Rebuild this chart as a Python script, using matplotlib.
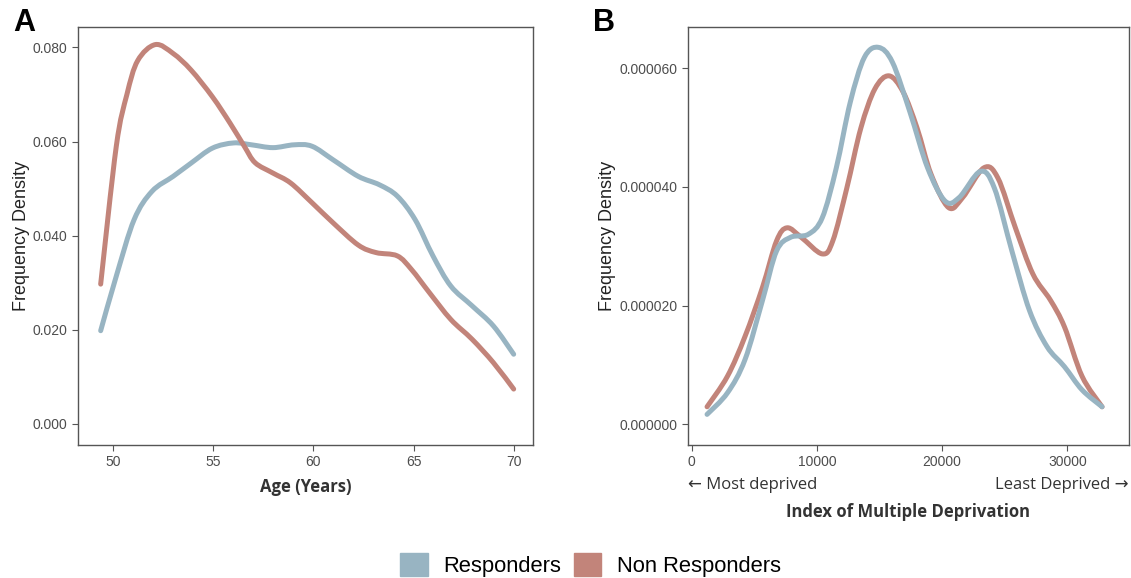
import numpy as np
import matplotlib
matplotlib.use("Agg")
from matplotlib import pyplot as plt
from matplotlib.patches import Patch, PathPatch
from matplotlib.path import Path

# panel A: age densities
age_resp = [49.38, 50.16, 51.05, 51.94, 53.0, 53.89, 54.96, 56.02, 56.91, 57.98, 59.04, 59.93,
            60.99, 62.24, 63.3, 64.19, 65.08, 65.97, 66.86, 67.92, 68.99, 70.0]
dens_resp = [0.0198, 0.0314, 0.0434, 0.0494, 0.0526, 0.0554, 0.0586, 0.0597, 0.0593, 0.0587, 0.0593, 0.059,
             0.0561, 0.0526, 0.0508, 0.0484, 0.0434, 0.0357, 0.0293, 0.0251, 0.0208, 0.0148]
age_non = [49.38, 50.16, 50.69, 51.23, 52.11, 53.0, 53.89, 54.96, 55.84, 56.55, 57.09, 57.98,
           58.86, 59.93, 60.99, 62.24, 63.13, 64.19, 64.9, 65.79, 66.86, 67.92, 68.99, 70.0]
dens_non = [0.0297, 0.059, 0.070, 0.0772, 0.0806, 0.0787, 0.0752, 0.0695, 0.0639, 0.059, 0.0555, 0.0533,
            0.0512, 0.047, 0.0427, 0.038, 0.0364, 0.0357, 0.0328, 0.0279, 0.0222, 0.018, 0.013, 0.0074]

# panel B: IMD densities
imd_resp = [1230, 2860, 4260, 5660, 6780, 7900, 9310, 10430, 11550, 12670, 13790, 14910, 16030,
            17430, 18840, 20240, 21360, 23050, 24170, 25570, 26970, 28370, 29770, 31170, 32770]
imd_dens_resp = [1.67e-6, 5.3e-6, 1.09e-5, 2.09e-5, 2.92e-5, 3.15e-5, 3.2e-5, 3.48e-5, 4.32e-5, 5.43e-5,
                 6.18e-5, 6.35e-5, 6.1e-5, 5.26e-5, 4.32e-5, 3.76e-5, 3.82e-5, 4.26e-5, 3.98e-5, 2.92e-5,
                 1.92e-5, 1.31e-5, 9.7e-6, 5.8e-6, 2.95e-6]
imd_non = [1230, 2860, 4260, 5660, 6780, 7620, 8750, 10430, 11270, 12390, 13510, 14630, 15760,
           16880, 18000, 19120, 20520, 21640, 23330, 24450, 25850, 27250, 28650, 29770, 31170, 32770]
imd_dens_non = [2.95e-6, 8.1e-6, 1.48e-5, 2.31e-5, 3.09e-5, 3.31e-5, 3.15e-5, 2.87e-5, 3.09e-5, 3.98e-5,
                4.99e-5, 5.65e-5, 5.87e-5, 5.6e-5, 4.99e-5, 4.21e-5, 3.65e-5, 3.82e-5, 4.32e-5, 4.15e-5,
                3.31e-5, 2.53e-5, 2.09e-5, 1.64e-5, 8.1e-6, 2.95e-6]

blue = "#98b4c2"
red = "#c2847a"
lw = 3.6


def smooth_line(ax, x, y, color):
    # catmull-rom through the points, drawn as bezier segments in display space
    pts = ax.transData.transform(np.column_stack([x, y]))
    verts = [pts[0]]
    codes = [Path.MOVETO]
    n = len(pts)
    for i in range(n - 1):
        p0 = pts[max(i - 1, 0)]
        p1 = pts[i]
        p2 = pts[i + 1]
        p3 = pts[min(i + 2, n - 1)]
        c1 = p1 + (p2 - p0) / 6.0
        c2 = p2 - (p3 - p1) / 6.0
        verts += [c1, c2, p2]
        codes += [Path.CURVE4] * 3
    verts = ax.transData.inverted().transform(np.array(verts))
    ax.add_patch(PathPatch(Path(verts, codes), facecolor="none", edgecolor=color, lw=lw,
                           capstyle="round", joinstyle="round"))


fig = plt.figure(figsize=(11.31, 5.78), dpi=100)
axA = fig.add_axes([0.069, 0.230, 0.402, 0.723])
axB = fig.add_axes([0.608, 0.230, 0.390, 0.723])

for ax in (axA, axB):
    for s in ax.spines.values():
        s.set_color("#555555")
        s.set_linewidth(1.0)
    ax.tick_params(colors="#555555", labelcolor="#4d4d4d", labelsize=10, length=4, width=0.8)

axA.set_xlim(48.25, 70.95)
axA.set_ylim(-0.0045, 0.0843)
axA.set_xticks([50, 55, 60, 65, 70])
axA.set_yticks([0, 0.02, 0.04, 0.06, 0.08])
axA.set_yticklabels(["0.000", "0.020", "0.040", "0.060", "0.080"], family="Liberation Sans")
axA.set_xticklabels(["50", "55", "60", "65", "70"], family="Liberation Sans")
axA.set_xlabel("Age (Years)", family="Open Sans", fontweight="bold", fontsize=12, color="#333333", labelpad=6)
axA.set_ylabel("Frequency Density", family="Liberation Sans", fontsize=13, color="#222222", labelpad=2)

axB.set_xlim(-320, 34900)
axB.set_ylim(-3.5e-6, 6.69e-5)
axB.set_xticks([0, 10000, 20000, 30000])
axB.set_xticklabels(["0", "10000", "20000", "30000"], family="Liberation Sans")
axB.set_yticks([0, 2e-5, 4e-5, 6e-5])
axB.set_yticklabels(["0.000000", "0.000020", "0.000040", "0.000060"], family="Liberation Sans")
axB.set_ylabel("Frequency Density", family="Liberation Sans", fontsize=13, color="#222222", labelpad=2)
axB.set_xlabel("Index of Multiple Deprivation", family="Open Sans", fontweight="bold", fontsize=12,
               color="#333333", labelpad=24)
axB.text(0.0, -0.095, "\u2190 Most deprived", transform=axB.transAxes, family=["Open Sans", "DejaVu Sans"],
         fontsize=12, color="#333333", ha="left", va="center")
axB.text(1.0, -0.095, "Least Deprived \u2192", transform=axB.transAxes, family=["Open Sans", "DejaVu Sans"],
         fontsize=12, color="#333333", ha="right", va="center")

smooth_line(axA, age_resp, dens_resp, blue)
smooth_line(axA, age_non, dens_non, red)
smooth_line(axB, imd_non, imd_dens_non, red)
smooth_line(axB, imd_resp, imd_dens_resp, blue)

fig.text(0.012, 0.96, "A", fontsize=22, fontweight="bold", family="Liberation Sans", va="center")
fig.text(0.524, 0.96, "B", fontsize=22, fontweight="bold", family="Liberation Sans", va="center")

handles = [Patch(color=blue, label="Responders"), Patch(color=red, label="Non Responders")]
fig.legend(handles=handles, loc="center", bbox_to_anchor=(0.522, 0.022), ncol=2, frameon=False,
           prop={"family": "Liberation Sans", "size": 15.8}, handlelength=1.25, handleheight=1.25,
           handletextpad=0.7, columnspacing=0.6)

fig.savefig("out.png", dpi=100)
